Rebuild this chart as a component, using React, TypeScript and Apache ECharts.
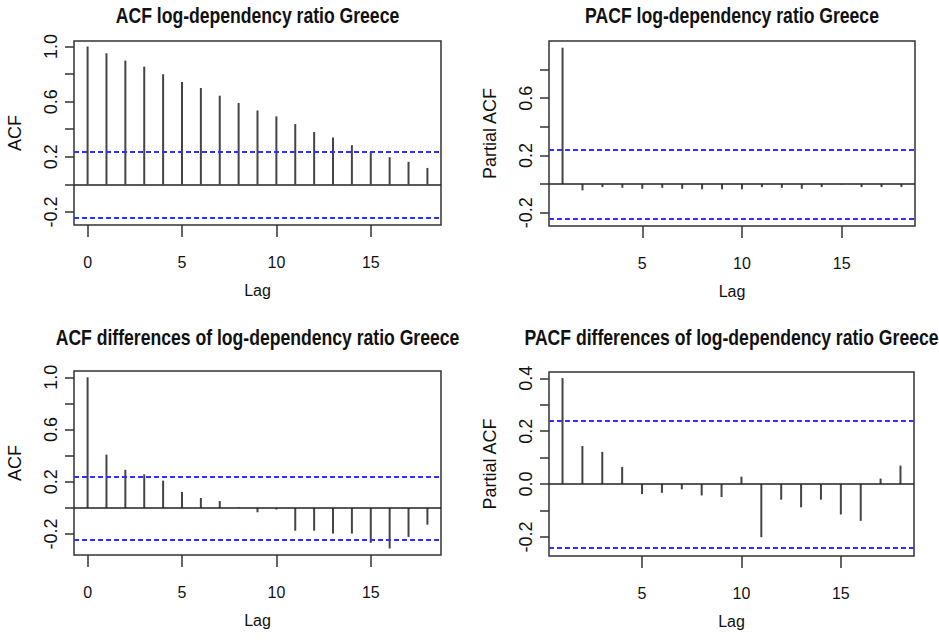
import React, { useEffect, useRef } from "react";
import * as echarts from "echarts";

// ---- data ----
const lagsAcf = [0, 1, 2, 3, 4, 5, 6, 7, 8, 9, 10, 11, 12, 13, 14, 15, 16, 17, 18];
const lagsPacf = [1, 2, 3, 4, 5, 6, 7, 8, 9, 10, 11, 12, 13, 14, 15, 16, 17, 18];

const acfLevel = [1.0, 0.951, 0.898, 0.854, 0.799, 0.743, 0.699, 0.643, 0.59, 0.536, 0.493, 0.437, 0.379, 0.34, 0.284, 0.235, 0.197, 0.163, 0.119];
const pacfLevel = [0.953, -0.044, -0.021, -0.026, -0.033, -0.026, -0.033, -0.037, -0.037, -0.037, -0.021, -0.026, -0.033, -0.021, -0.003, -0.021, -0.021, -0.021];
const acfDiff = [1.0, 0.408, 0.292, 0.257, 0.209, 0.123, 0.076, 0.053, 0.004, -0.033, -0.012, -0.174, -0.174, -0.196, -0.196, -0.267, -0.31, -0.222, -0.128];
const pacfDiff = [0.401, 0.144, 0.122, 0.065, -0.038, -0.033, -0.02, -0.043, -0.049, 0.028, -0.201, -0.059, -0.088, -0.059, -0.115, -0.139, 0.021, 0.07];

const confBound = 0.245;

const titles = [
  "ACF log-dependency ratio Greece",
  "PACF log-dependency ratio Greece",
  "ACF differences of log-dependency ratio Greece",
  "PACF differences of log-dependency ratio Greece",
];
const yNames = ["ACF", "Partial ACF", "ACF", "Partial ACF"];

const xTicksAcf = [0, 5, 10, 15];
const xTicksPacf = [5, 10, 15];
const yTicks1 = [-0.2, 0, 0.2, 0.4, 0.6, 0.8, 1.0];
const yLabels1 = [-0.2, 0.2, 0.6, 1.0];
const yTicks2 = [-0.2, 0, 0.2, 0.4, 0.6, 0.8];
const yLabels2 = [-0.2, 0.2, 0.6];
const yTicks4 = [-0.2, -0.1, 0, 0.1, 0.2, 0.3, 0.4];
const yLabels4 = [-0.2, 0.0, 0.2, 0.4];

const REG = "'Liberation Sans', Arial, Helvetica, sans-serif";
const INK = "#333";
const BLUE = "#3030ff";

type Panel = {
  left: number; top: number; width: number; height: number;
  xMin: number; xMax: number; yMin: number; yMax: number;
  xTicks: number[]; yTicks: number[]; yLabels: number[];
  lags: number[]; values: number[]; titleTop: number;
};

const panels: Panel[] = [
  { left: 74, top: 41, width: 367, height: 184, xMin: -0.72, xMax: 18.72, yMin: -0.295, yMax: 1.04, xTicks: xTicksAcf, yTicks: yTicks1, yLabels: yLabels1, lags: lagsAcf, values: acfLevel, titleTop: 4 },
  { left: 549, top: 41, width: 366, height: 185, xMin: 0.32, xMax: 18.68, yMin: -0.293, yMax: 1.0, xTicks: xTicksPacf, yTicks: yTicks2, yLabels: yLabels2, lags: lagsPacf, values: pacfLevel, titleTop: 4 },
  { left: 74, top: 371, width: 367, height: 184, xMin: -0.72, xMax: 18.72, yMin: -0.36, yMax: 1.048, xTicks: xTicksAcf, yTicks: yTicks1, yLabels: yLabels1, lags: lagsAcf, values: acfDiff, titleTop: 326 },
  { left: 549, top: 372, width: 365, height: 184, xMin: 0.32, xMax: 18.68, yMin: -0.272, yMax: 0.424, xTicks: xTicksPacf, yTicks: yTicks4, yLabels: yLabels4, lags: lagsPacf, values: pacfDiff, titleTop: 326 },
];

function buildOption() {
  return {
    animation: false,
    backgroundColor: "#fff",
    graphic: panels.map((p, i) => ({
      type: "text",
      x: p.left + p.width / 2,
      y: p.titleTop,
      scaleX: 0.8,
      silent: true,
      style: {
        text: titles[i],
        fill: "#111",
        fontFamily: REG,
        fontWeight: "bold",
        fontSize: 22,
        textAlign: "center",
        textVerticalAlign: "top",
        align: "center",
        verticalAlign: "top",
      },
    })),
    grid: panels.map((p) => ({
      left: p.left, top: p.top, width: p.width, height: p.height,
      show: true, borderColor: INK, borderWidth: 1.5, backgroundColor: "transparent",
      containLabel: false,
    })),
    xAxis: panels.map((p, i) => ({
      type: "value", gridIndex: i, min: p.xMin, max: p.xMax,
      name: "Lag", nameLocation: "middle", nameGap: 57,
      nameTextStyle: { fontFamily: REG, fontSize: 16, color: "#111" },
      axisLine: { show: false, onZero: false },
      axisTick: { show: true, length: 12, customValues: p.xTicks, lineStyle: { color: INK, width: 1.5 } },
      axisLabel: { customValues: p.xTicks, margin: 29, fontFamily: REG, fontSize: 16, color: "#111", formatter: (v: number) => String(v) },
      splitLine: { show: false },
    })),
    yAxis: panels.map((p, i) => ({
      type: "value", gridIndex: i, min: p.yMin, max: p.yMax,
      name: yNames[i], nameLocation: "middle", nameGap: 50,
      nameTextStyle: { fontFamily: REG, fontSize: 18, color: "#111" },
      axisLine: { show: false, onZero: false },
      axisTick: { show: true, length: 9, customValues: p.yTicks, lineStyle: { color: INK, width: 1.5 } },
      axisLabel: { customValues: p.yLabels, rotate: 90, margin: 14, fontFamily: REG, fontSize: 18, color: "#111", formatter: (v: number) => v.toFixed(1) },
      splitLine: { show: false },
    })),
    series: panels.map((p, i) => ({
      type: "bar", xAxisIndex: i, yAxisIndex: i, barWidth: 2,
      itemStyle: { color: "#444" },
      data: p.lags.map((l, k) => [l, p.values[k]]),
      markLine: {
        silent: true, symbol: ["none", "none"], label: { show: false },
        data: [
          { yAxis: 0, lineStyle: { color: "#222", type: "solid", width: 1.5 } },
          { yAxis: confBound, lineStyle: { color: BLUE, type: [5, 3], width: 2 } },
          { yAxis: -confBound, lineStyle: { color: BLUE, type: [5, 3], width: 2 } },
        ],
      },
    })),
  };
}

export default function App() {
  const ref = useRef<HTMLDivElement>(null);
  useEffect(() => {
    if (!ref.current) return;
    const chart = echarts.init(ref.current, null, { renderer: "svg" });
    chart.setOption(buildOption() as any);
    return () => chart.dispose();
  }, []);
  return (
    <div
      ref={ref}
      style={{ position: "absolute", left: 0, top: 0, width: 939, height: 640, background: "#fff" }}
    />
  );
}
